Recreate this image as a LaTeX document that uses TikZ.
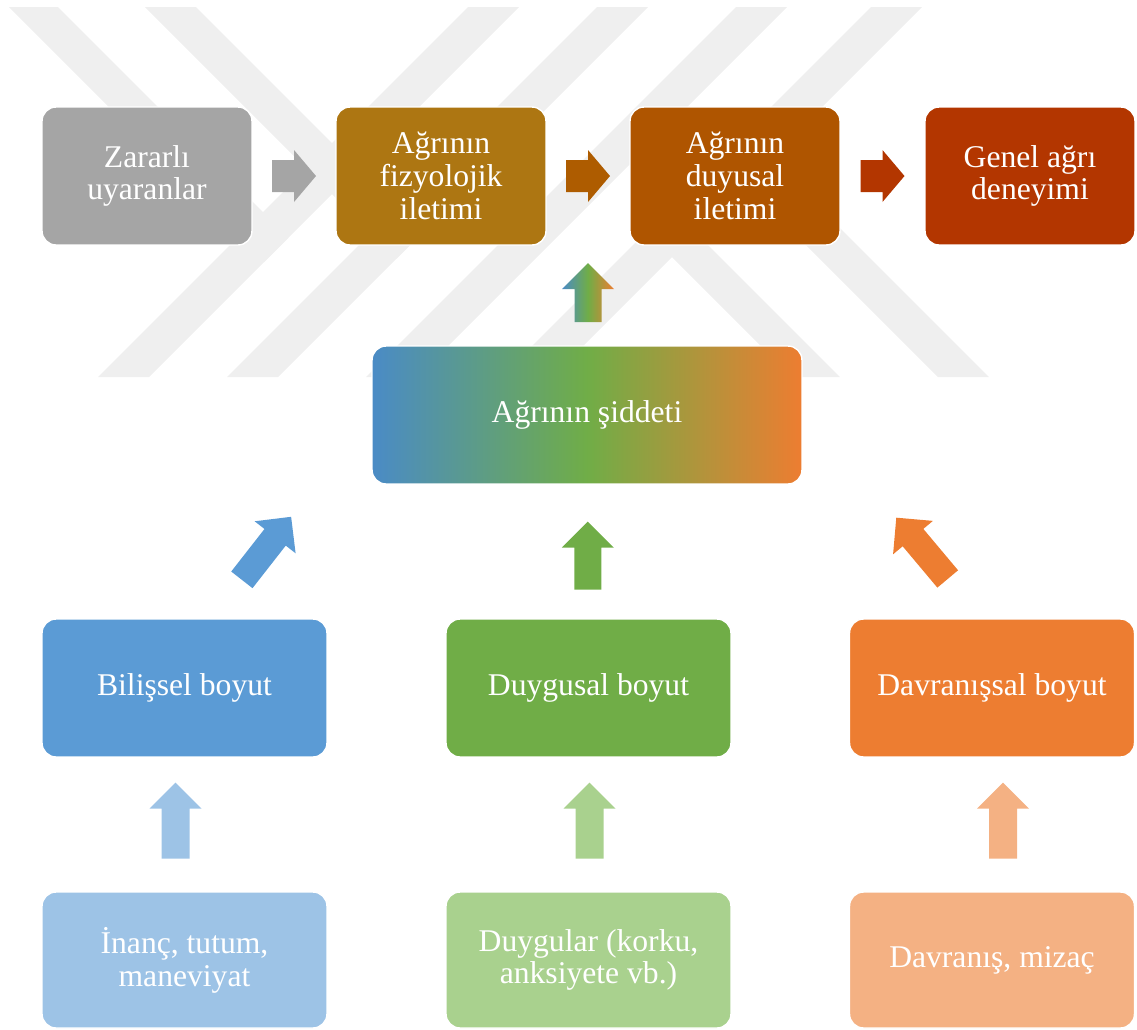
\documentclass[tikz,border=0pt]{standalone}
\usepackage{fontspec}
\setmainfont{Liberation Serif}
\usetikzlibrary{calc}
\definecolor{wmgray}{HTML}{EFEFEF}
\definecolor{zararcol}{HTML}{A5A5A5}
\definecolor{fizyocol}{HTML}{AD7612}
\definecolor{duyucol}{HTML}{AF5500}
\definecolor{arrtwocol}{HTML}{AE5C00}
\definecolor{genelcol}{HTML}{B33600}
\definecolor{gradblue}{HTML}{4A8BC6}
\definecolor{gradgreen}{HTML}{70AD47}
\definecolor{gradorange}{HTML}{ED7D31}
\definecolor{bilcol}{HTML}{5B9BD5}
\definecolor{duygcol}{HTML}{70AD47}
\definecolor{davcol}{HTML}{ED7D31}
\definecolor{inanccol}{HTML}{9DC3E6}
\definecolor{duyglarcol}{HTML}{A9D18E}
\definecolor{davliftcol}{HTML}{F4B183}
\tikzset{
  painbox/.style={rounded corners=0.28cm, draw=white, line width=0.8pt,
    text=white, align=center, inner sep=0pt, minimum height=2.76cm,
    font=\fontsize{18}{18.7}\selectfont},
  gradfill/.style={left color=gradblue, right color=gradorange, middle color=gradgreen}
}
% block arrow: [style](centre)(angle:length:head length:half shaft)
\def\blockarr[#1](#2)(#3:#4:#5:#6){\fill[#1, shift={(#2)}, rotate=#3] ({-#4/2},{-#6}) -- ({#4/2-#5},{-#6}) -- ({#4/2-#5},-26) -- ({#4/2},0) -- ({#4/2-#5},26) -- ({#4/2-#5},{#6}) -- ({-#4/2},{#6}) -- cycle;}

\begin{document}
\begin{tikzpicture}[x=0.02cm, y=-0.02cm]
		%%%%% START %%%%%
		\useasboundingbox (0,0) rectangle (1137,1029);
		
		% watermark
		\fill[wmgray] (468,7) -- (519,7) -- (149,377) -- (98,377) -- cycle;
		\fill[wmgray] (597,7) -- (648,7) -- (278,377) -- (227,377) -- cycle;
		\fill[wmgray] (736,7) -- (787,7) -- (417,377) -- (366,377) -- cycle;
		\fill[wmgray] (871,7) -- (922,7) -- (552,377) -- (501,377) -- cycle;
		\fill[wmgray] (9,7) -- (58,7) -- (288.5,237.5) -- (264,262) -- cycle;
		\fill[wmgray] (145,7) -- (196,7) -- (422,233) -- (396.5,258.5) -- cycle;
		\fill[wmgray] (646.5,231.5) -- (670.5,207.5) -- (840,377) -- (792,377) -- cycle;
		\fill[wmgray] (681,120) -- (732,120) -- (989,377) -- (938,377) -- cycle;
		
		% top row
		\node[painbox, fill=zararcol, minimum width=4.2cm] (zarar) at (147,176) {Zararlı\\uyaranlar};
		\node[painbox, fill=fizyocol, minimum width=4.2cm] (fizyo) at (441,176) {Ağrının\\fizyolojik\\iletimi};
		\node[painbox, fill=duyucol, minimum width=4.2cm] (duyusal) at (735,176) {Ağrının\\duyusal\\iletimi};
		\node[painbox, fill=genelcol, minimum width=4.2cm] (genel) at (1030,176) {Genel ağrı\\deneyimi};
		
		\blockarr[zararcol]($(zarar.east)!.5!(fizyo.west)$)(0:44:22:16)
		\blockarr[arrtwocol]($(fizyo.east)!.5!(duyusal.west)$)(0:44:22:16)
		\blockarr[genelcol]($(duyusal.east)!.5!(genel.west)$)(0:44:22:16)
		
		% intensity
		\node[painbox, gradfill, minimum width=8.6cm] (grad) at (587,415) {Ağrının şiddeti};
		\coordinate (gaup) at ($(grad.north)!.5!(grad.north |- duyusal.south)+(1,-3)$);
		\shade[gradfill, shift={(gaup)}] (-13.5,29.5) -- (-13.5,-3.5) -- (-26,-3.5) -- (0,-29.5) -- (26,-3.5) -- (13.5,-3.5) -- (13.5,29.5) -- cycle;
		
		% dimensions
		\node[painbox, fill=bilcol, minimum width=5.7cm] (bilis) at (184.5,688) {Bilişsel boyut};
		\node[painbox, fill=duygcol, minimum width=5.7cm] (duygu) at (588.5,688) {Duygusal boyut};
		\node[painbox, fill=davcol, minimum width=5.7cm] (davran) at (992,688) {Davranışsal boyut};
		
		\blockarr[bilcol]($(bilis.north)+(82,-70)$)(52:80:26:13.5)
		\blockarr[duygcol]($(grad.south)!.5!(duygu.north)+(0,4)$)(90:68:26:13.5)
		\blockarr[davcol]($(davran.north)+(-70,-70)$)(130:80:26:13.5)
		
		% sources
		\node[painbox, fill=inanccol, minimum width=5.7cm, minimum height=2.72cm] (inanc) at (184.5,960) {İnanç, tutum,\\maneviyat};
		\node[painbox, fill=duyglarcol, minimum width=5.7cm, minimum height=2.72cm] (duygular) at (588.5,960) {Duygular (korku,\\anksiyete vb.)};
		\node[painbox, fill=davliftcol, minimum width=5.7cm, minimum height=2.72cm] (davranis) at (992,960) {Davranış, mizaç};
		
		\blockarr[inanccol]($(bilis.south)!.5!(inanc.north)+(-9,-4)$)(90:76:26:14)
		\blockarr[duyglarcol]($(duygu.south)!.5!(duygular.north)+(1,-4)$)(90:76:26:14)
		\blockarr[davliftcol]($(davran.south)!.5!(davranis.north)+(11,-4)$)(90:76:26:14)
		
		%%%%% END %%%%%
\end{tikzpicture}
\end{document}
